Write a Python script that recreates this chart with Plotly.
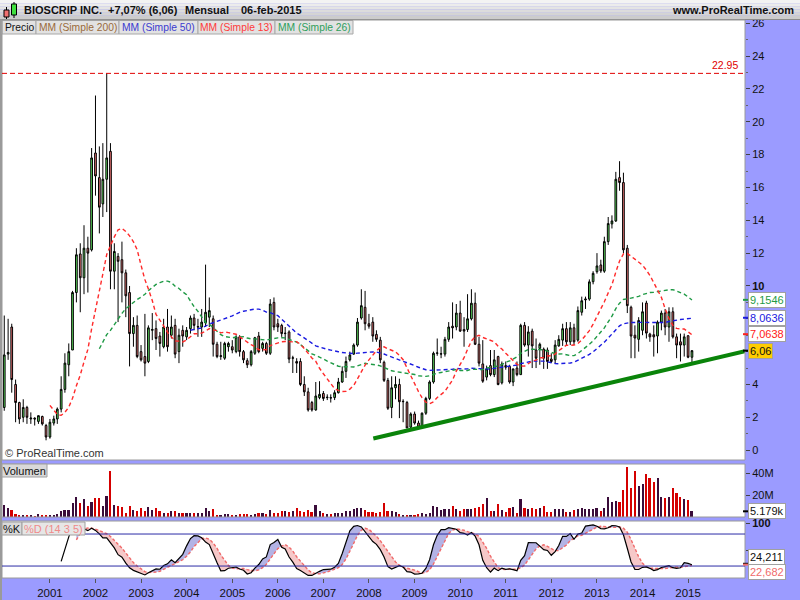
import numpy as np
import pandas as pd
import plotly.graph_objects as go

# ---------------- data (monthly, Jan 2000 .. Feb 2015) ----------------
months = pd.date_range("2000-01-01", periods=182, freq="MS")

opens = [2.6, 5.85, 7.5, 4.0, 2.9, 2.0, 2.6, 1.9, 1.95, 1.75, 2.05, 1.5,
         0.8, 1.65, 1.9, 2.5, 3.7, 5.2, 6.1, 9.6, 11.95, 10.5, 12.3, 12.2,
         18.1, 16.6, 15.0, 16.5, 18.2, 10.9, 11.8, 11.6, 10.8, 9.6, 7.1, 7.6,
         6.0, 5.7, 5.4, 7.3, 7.4, 6.95, 6.3, 7.5, 7.0, 7.6, 6.0, 7.3,
         6.9, 7.4, 8.05, 7.5, 7.5, 7.75, 8.1, 8.0, 6.45, 5.7, 5.6, 6.3,
         6.3, 6.0, 6.9, 6.0, 5.45, 5.2, 5.9, 6.95, 6.2, 6.5, 5.9, 9.0,
         7.7, 7.6, 7.1, 7.2, 5.6, 5.4, 5.4, 4.0, 3.55, 2.9, 2.45, 3.2,
         3.45, 3.2, 3.2, 3.2, 3.5, 4.15, 4.8, 5.5, 5.85, 6.4, 8.05, 8.7,
         7.7, 7.8, 7.05, 6.7, 5.35, 4.25, 2.6, 3.8, 4.0, 2.95, 2.9, 1.4,
         2.2, 1.65, 1.4, 2.25, 3.15, 4.15, 5.9, 5.85, 5.85, 6.75, 7.55, 7.5,
         8.35, 7.35, 7.35, 8.0, 8.95, 6.45, 5.25, 4.45, 5.15, 4.6, 5.7, 4.1,
         5.15, 5.1, 4.15, 5.0, 4.6, 7.6, 6.4, 7.25, 6.1, 6.2, 6.15, 6.1,
         5.55, 5.5, 6.35, 6.7, 7.4, 6.6, 7.45, 6.7, 8.4, 9.15, 9.2, 10.26,
         10.87, 11.28, 10.9, 12.7, 13.78, 13.96, 16.6, 16.3, 12.3, 8.7, 7.0, 6.75,
         7.3, 8.96, 7.07, 7.03, 6.95, 7.8, 8.35, 7.5, 8.43, 6.9, 6.6, 6.4,
         6.97, 5.66]
highs = [8.2, 8.0, 7.7, 4.3, 2.95, 3.1, 2.7, 2.3, 2.0, 2.1, 2.1, 1.6,
         1.9, 2.1, 2.6, 4.5, 5.9, 6.5, 9.7, 12.3, 12.6, 13.7, 13.0, 18.4,
         21.6, 18.5, 18.7, 22.95, 18.7, 12.6, 12.0, 12.7, 11.0, 10.0, 8.1, 8.2,
         6.4, 8.3, 7.6, 8.35, 7.9, 7.2, 8.0, 8.6, 8.2, 8.0, 7.4, 7.6,
         7.5, 8.2, 8.3, 8.0, 8.6, 11.3, 9.3, 8.2, 6.6, 6.6, 6.6, 6.6,
         6.7, 7.0, 7.0, 6.1, 5.6, 6.1, 6.9, 7.2, 6.6, 6.6, 9.2, 9.3,
         8.0, 7.7, 7.5, 7.3, 5.75, 5.6, 5.6, 4.5, 3.8, 3.0, 4.15, 4.2,
         3.6, 3.4, 3.4, 3.65, 4.4, 5.1, 5.7, 6.0, 6.5, 8.05, 9.8, 9.7,
         8.3, 8.1, 7.3, 6.9, 5.45, 4.4, 4.5, 4.5, 4.35, 3.1, 3.0, 2.3,
         2.35, 1.8, 2.3, 3.25, 4.25, 6.0, 6.8, 6.3, 6.9, 7.8, 9.0, 8.9,
         9.1, 8.1, 9.5, 9.8, 9.6, 6.9, 6.7, 5.15, 6.1, 6.1, 5.75, 5.4,
         5.4, 5.2, 4.9, 5.4, 7.7, 7.8, 7.55, 7.4, 6.8, 6.55, 6.25, 6.25,
         5.9, 6.7, 7.0, 7.7, 7.8, 7.8, 7.7, 8.75, 9.35, 9.35, 10.4, 10.9,
         12.0, 11.6, 13.0, 14.2, 14.3, 16.95, 17.6, 16.9, 12.5, 8.8, 7.6, 8.1,
         9.0, 9.1, 7.15, 7.6, 7.9, 8.5, 8.6, 8.7, 8.7, 7.1, 7.1, 7.1,
         7.0, 6.1]
lows = [2.4, 5.5, 3.5, 1.7, 1.6, 1.7, 1.6, 1.6, 1.5, 1.6, 1.5, 0.6,
        0.7, 1.5, 1.6, 2.3, 3.5, 4.5, 6.1, 9.0, 8.4, 9.5, 9.6, 12.1,
        15.5, 13.2, 14.2, 14.5, 9.8, 9.8, 7.8, 9.0, 8.1, 5.1, 6.3, 5.6,
        5.4, 4.5, 5.3, 6.7, 6.1, 5.7, 6.2, 6.0, 6.8, 5.6, 5.3, 6.3,
        6.7, 7.1, 7.3, 6.9, 6.9, 7.5, 7.5, 5.7, 5.6, 5.5, 5.5, 6.0,
        5.9, 5.9, 5.7, 5.3, 5.0, 5.1, 5.8, 5.9, 6.0, 5.8, 5.8, 7.3,
        7.2, 6.9, 6.7, 5.3, 4.7, 4.7, 3.9, 3.3, 2.35, 2.35, 2.4, 3.1,
        3.0, 3.05, 2.9, 3.05, 3.45, 4.1, 4.4, 5.4, 5.8, 6.3, 7.95, 7.3,
        7.4, 6.6, 6.6, 5.3, 4.15, 2.45, 1.95, 3.1, 1.95, 1.7, 1.35, 1.3,
        1.55, 1.4, 1.3, 2.15, 3.05, 4.05, 5.75, 5.6, 5.7, 6.6, 6.8, 7.3,
        7.2, 6.3, 7.2, 7.9, 6.4, 5.1, 4.1, 4.25, 4.5, 4.45, 3.95, 4.0,
        4.9, 4.05, 3.9, 4.5, 4.6, 6.3, 5.7, 5.0, 5.0, 5.2, 4.95, 4.95,
        5.3, 5.3, 6.3, 6.35, 6.35, 6.4, 6.4, 6.6, 8.2, 8.6, 9.1, 10.1,
        10.75, 10.8, 10.8, 12.5, 13.5, 13.9, 15.8, 12.0, 8.35, 5.6, 5.6, 6.0,
        7.0, 6.8, 6.6, 5.7, 5.9, 7.3, 7.0, 6.6, 6.8, 5.6, 5.4, 5.7,
        5.6, 5.3]
closes = [5.8, 5.95, 4.3, 2.9, 1.9, 2.6, 2.0, 1.95, 1.9, 2.1, 1.6, 0.8,
          1.7, 1.9, 2.5, 3.7, 5.3, 6.0, 9.6, 11.9, 10.5, 12.3, 12.0, 17.8,
          16.7, 14.8, 16.5, 17.8, 10.9, 12.1, 11.5, 10.8, 9.4, 7.1, 7.6, 5.7,
          5.5, 5.3, 7.45, 7.35, 6.8, 6.5, 7.5, 6.3, 7.5, 5.85, 7.0, 6.95,
          7.3, 8.05, 7.6, 7.52, 7.8, 8.4, 8.5, 6.45, 5.7, 5.75, 6.5, 6.5,
          6.1, 6.9, 6.0, 5.5, 5.2, 6.0, 6.85, 6.0, 6.5, 5.9, 8.9, 7.5,
          7.5, 7.1, 7.12, 5.55, 5.62, 5.3, 4.0, 3.55, 2.45, 2.45, 3.3, 3.4,
          3.15, 3.22, 3.18, 3.5, 4.15, 4.8, 5.4, 5.8, 6.4, 7.8, 8.8, 7.7,
          7.55, 6.95, 6.75, 5.5, 4.25, 2.55, 3.8, 4.0, 2.95, 2.97, 1.35, 2.2,
          1.65, 1.4, 2.25, 3.15, 4.15, 5.9, 5.92, 5.87, 6.75, 7.5, 7.45, 8.35,
          7.25, 7.25, 8.0, 8.95, 6.45, 5.3, 4.2, 4.95, 4.6, 5.5, 4.0, 5.25,
          5.05, 4.15, 4.95, 4.6, 7.6, 6.4, 7.2, 6.35, 5.6, 6.45, 5.6, 5.4,
          5.4, 6.4, 6.75, 7.4, 6.6, 7.45, 6.6, 8.5, 9.1, 9.2, 10.25, 10.77,
          11.22, 10.92, 12.7, 13.8, 13.96, 16.5, 16.3, 12.2, 8.8, 6.95, 6.83, 7.9,
          8.43, 7.13, 6.9, 6.9, 7.8, 8.35, 7.5, 8.43, 6.9, 6.4, 6.4, 6.9,
          5.66, 6.06]
volumes_m = [10.9, 8.5, 6.4, 2.7, 2.1, 2.1, 1.5, 1.5, 0.6, 2.7, 2.1, 2.1,
             2.1, 1.5, 2.7, 5.5, 6.4, 6.4, 12.4, 17.9, 12.4, 16.4, 10.0, 13.9,
             17.6, 17.6, 10.0, 19.1, 41.8, 10.5, 10.0, 9.4, 3.3, 10.0, 6.4, 5.5,
             8.5, 5.5, 8.9, 6.4, 8.5, 5.5, 3.9, 3.3, 5.5, 5.5, 3.9, 3.9,
             3.3, 3.9, 3.3, 3.3, 3.3, 7.9, 5.5, 7.0, 2.1, 2.1, 2.7, 2.7,
             1.5, 2.1, 2.7, 2.7, 2.7, 2.1, 2.7, 3.3, 3.3, 2.7, 6.4, 3.3,
             4.0, 5.5, 5.5, 4.5, 5.5, 7.9, 5.5, 4.5, 6.4, 4.5, 10.9, 5.5,
             3.3, 2.7, 2.7, 3.3, 3.3, 3.9, 5.5, 5.5, 7.0, 7.9, 7.9, 6.4,
             4.5, 4.5, 3.9, 4.5, 12.4, 5.5, 5.5, 4.5, 2.7, 2.1, 2.1, 2.1,
             1.5, 2.7, 3.3, 2.7, 3.9, 10.0, 8.9, 6.4, 7.3, 7.0, 10.0, 7.3,
             5.5, 7.3, 7.3, 7.0, 8.5, 9.4, 11.8, 17.6, 5.5, 5.5, 11.8, 6.1,
             4.5, 8.5, 8.9, 3.9, 16.4, 7.9, 7.0, 7.9, 7.0, 7.9, 10.0, 4.5,
             4.5, 7.0, 7.0, 7.0, 4.5, 4.5, 6.1, 7.3, 8.5, 7.3, 7.3, 7.3,
             7.9, 5.8, 8.5, 18.2, 13.9, 14.8, 13.9, 24.5, 45.7, 26.0, 42.0, 28.5,
             29.7, 39.0, 35.2, 31.5, 35.8, 17.9, 17.0, 17.9, 26.7, 22.1, 17.9, 16.0,
             15.5, 5.18]

year_ticks = list(range(2001, 2016))
price_ticks = list(range(0, 27, 2))
volume_ticks = [20, 40]
stoch_ticks = [50, 100]

# values printed in the right-hand markers
marker_sma26, marker_sma50, marker_sma13, marker_close = 9.1546, 8.0636, 7.0638, 6.06
marker_k, marker_d = 24.211, 22.682
marker_volume_k = 5.179

# hand-drawn support line
trend_dates = ["2008-02-05", "2016-04-01"]
trend_values = [0.71, 6.03]

# ---------------- helpers ----------------
W, H = 800, 600
def px(x): return x / W
def py(y): return 1 - y / H

FONT = "Liberation Sans, Arial, sans-serif"
X_DOM = [px(2), px(745)]
PRICE_DOM = [py(460), py(20)]
VOL_DOM = [py(517), py(464)]
STO_DOM = [py(578), py(521)]

s_close = pd.Series(closes, dtype=float)
s_high = pd.Series(highs, dtype=float)
s_low = pd.Series(lows, dtype=float)
sma13 = s_close.rolling(13).mean()
sma26 = s_close.rolling(26).mean()
sma50 = s_close.rolling(50).mean()

hh = s_high.rolling(14).max()
ll = s_low.rolling(14).min()
raw_k = 100 * (s_close - ll) / (hh - ll)
pct_k = raw_k.rolling(3).mean()
pct_d = pct_k.rolling(5).mean()

# fill polygons between %K and %D with crossing points inserted
valid = pct_d.notna().values
t_ns = months.values.astype("int64")
idx = np.where(valid)[0]
fx, fk, fd = [], [], []
for a, b in zip(idx[:-1], idx[1:]):
    k0, k1, d0, d1 = pct_k[a], pct_k[b], pct_d[a], pct_d[b]
    fx.append(t_ns[a]); fk.append(k0); fd.append(d0)
    if (k0 - d0) * (k1 - d1) < 0:
        f = (k0 - d0) / ((k0 - d0) - (k1 - d1))
        fx.append(t_ns[a] + f * (t_ns[b] - t_ns[a]))
        v = d0 + f * (d1 - d0)
        fk.append(v); fd.append(v)
fx.append(t_ns[idx[-1]]); fk.append(pct_k[idx[-1]]); fd.append(pct_d[idx[-1]])
fx = pd.to_datetime(np.array(fx, dtype="int64"))
fk = np.array(fk); fd = np.array(fd)

vol_colors = ["#3a0c3a" if c >= o else "#d40000" for o, c in zip(opens, closes)]

fig = go.Figure()

fig.add_trace(go.Candlestick(
    x=months, open=opens, high=highs, low=lows, close=closes,
    increasing=dict(fillcolor="#5fe35f", line=dict(color="black", width=1)),
    decreasing=dict(fillcolor="#f27777", line=dict(color="black", width=1)),
    whiskerwidth=0, xaxis="x", yaxis="y", hoverinfo="skip"))

for series, col in [(sma50, "#1a1ae0"), (sma26, "#1f9a45"), (sma13, "#ff2a2a")]:
    fig.add_trace(go.Scatter(x=months, y=series, mode="lines",
                             line=dict(color=col, width=1.4, dash="4px,3px"),
                             xaxis="x", yaxis="y", hoverinfo="skip"))

fig.add_trace(go.Scatter(x=trend_dates, y=trend_values, mode="lines",
                         line=dict(color="#0a840a", width=4),
                         xaxis="x", yaxis="y", hoverinfo="skip"))

fig.add_trace(go.Bar(x=months, y=volumes_m, marker=dict(color=vol_colors, line=dict(width=0)),
                     width=16 * 24 * 3600 * 1000, xaxis="x", yaxis="y2", hoverinfo="skip"))

# stochastic fills
fig.add_trace(go.Scatter(x=fx, y=fd, mode="lines", line=dict(width=0), xaxis="x", yaxis="y3", hoverinfo="skip"))
fig.add_trace(go.Scatter(x=fx, y=np.maximum(fk, fd), mode="lines", line=dict(width=0), fill="tonexty",
                         fillcolor="rgba(160,160,222,0.8)", xaxis="x", yaxis="y3", hoverinfo="skip"))
fig.add_trace(go.Scatter(x=fx, y=fd, mode="lines", line=dict(width=0), xaxis="x", yaxis="y3", hoverinfo="skip"))
fig.add_trace(go.Scatter(x=fx, y=np.minimum(fk, fd), mode="lines", line=dict(width=0), fill="tonexty",
                         fillcolor="rgba(244,190,190,0.85)", xaxis="x", yaxis="y3", hoverinfo="skip"))
fig.add_trace(go.Scatter(x=months, y=pct_d, mode="lines", line=dict(color="#f06a6a", width=1.4, dash="3px,2px"),
                         xaxis="x", yaxis="y3", hoverinfo="skip"))
fig.add_trace(go.Scatter(x=months, y=pct_k, mode="lines", line=dict(color="black", width=1.2),
                         xaxis="x", yaxis="y3", hoverinfo="skip"))

shapes = []
ann = []

# title bar gradient
grad = ["#f3f3f3", "#ececec", "#e4e4e4", "#dcdcdc", "#d4d4d4", "#cccccc"]
bh = 19 / len(grad)
for n, c in enumerate(grad):
    shapes.append(dict(type="rect", xref="paper", yref="paper", x0=0, x1=1,
                       y0=py((n + 1) * bh), y1=py(n * bh), fillcolor=c, line=dict(width=0)))
shapes.append(dict(type="line", xref="paper", yref="paper", x0=0, x1=1, y0=py(19.5), y1=py(19.5),
                   line=dict(color="#8c8c8c", width=1)))
shapes.append(dict(type="rect", xref="paper", yref="paper", x0=0, x1=px(2), y0=0, y1=py(19),
                   fillcolor="#9a9a9a", line=dict(width=0)))

# icon
shapes += [
    dict(type="line", xref="paper", yref="paper", x0=px(6.5), x1=px(6.5), y0=py(19), y1=py(7), line=dict(color="black", width=1)),
    dict(type="rect", xref="paper", yref="paper", x0=px(4), x1=px(9), y0=py(17), y1=py(10), fillcolor="#f07070", line=dict(color="black", width=1)),
    dict(type="line", xref="paper", yref="paper", x0=px(14), x1=px(14), y0=py(18), y1=py(2), line=dict(color="black", width=1)),
    dict(type="rect", xref="paper", yref="paper", x0=px(11.5), x1=px(16.5), y0=py(15), y1=py(4), fillcolor="#40e040", line=dict(color="black", width=1)),
]

def text(x, y, t, size=11, color="#111", bold=False, xanchor="left", **kw):
    d = dict(xref="paper", yref="paper", x=px(x), y=py(y), text=("<b>%s</b>" % t) if bold else t,
             showarrow=False, xanchor=xanchor, yanchor="middle",
             font=dict(family=FONT, size=size, color=color))
    d.update(kw)
    ann.append(d)

text(22, 10, "BIOSCRIP INC.", 11, "#111", True)
text(106, 10, "+7,07% (6,06)", 11, "#111", True)
text(183, 10, "Mensual", 11, "#111", True)
text(239, 10, "06-feb-2015", 11, "#111", True)
text(796, 10, "www.ProRealTime.com", 11, "#111", True, xanchor="right")

# legend boxes
leg = [("Precio", "#111", 2, 36), ("MM (Simple 200)", "#9a6a3a", 36, 119),
       ("MM (Simple 50)", "#3b3bd0", 119, 198), ("MM (Simple 13)", "#ff3a3a", 198, 275),
       ("MM (Simple 26)", "#2e9e5a", 275, 353)]
for t, c, x0, x1 in leg:
    shapes.append(dict(type="rect", xref="paper", yref="paper", x0=px(x0), x1=px(x1), y0=py(34), y1=py(20.5),
                       fillcolor="#e2e2e2", line=dict(color="#a8a8a8", width=1), layer="above"))
    text((x0 + x1) / 2, 27.5, t, 10.3, c, xanchor="center")

# panel borders
for top, bot in [(20, 460), (464, 517), (521, 578)]:
    shapes.append(dict(type="rect", xref="paper", yref="paper", x0=px(2), x1=px(745), y0=py(bot), y1=py(top),
                       line=dict(color="#9a9a9a", width=1), fillcolor="rgba(0,0,0,0)", layer="above"))

# 22.95 high line
max_high = max(highs)
shapes.append(dict(type="line", xref="paper", yref="y", x0=px(2), x1=px(745), y0=max_high, y1=max_high,
                   line=dict(color="#e00000", width=1, dash="5px,3px")))
ann.append(dict(xref="paper", yref="y", x=px(740), y=max_high, text=f"{max_high:.2f}", showarrow=False,
                xanchor="right", yanchor="bottom", font=dict(family=FONT, size=10.5, color="#e00000")))

text(3, 453, "© ProRealTime.com", 11, "#333")

# stochastic reference lines
for lvl in (20, 80):
    shapes.append(dict(type="line", xref="paper", yref="y3", x0=px(2), x1=px(745), y0=lvl, y1=lvl,
                       line=dict(color="#2b2ba6", width=1)))

# panel label boxes
def box(x0, x1, y0, y1, t, color="#111", fill="#d9d9d9"):
    shapes.append(dict(type="rect", xref="paper", yref="paper", x0=px(x0), x1=px(x1), y0=py(y1), y1=py(y0),
                       fillcolor=fill, line=dict(color="#a0a0a0", width=1), layer="above"))
    text((x0 + x1) / 2, (y0 + y1) / 2, t, 11, color, xanchor="center")

box(2, 47, 464, 477, "Volumen")
box(2, 22, 522, 535, "%K")
box(22, 85, 522, 535, "%D (14 3 5)", "#f08a8a", "#e6e6e6")

# right-axis markers
def marker(yref, val, label, color, fill="white", yshift=0):
    shapes.append(dict(type="line", xref="paper", yref=yref, x0=px(743), x1=px(748), y0=val, y1=val,
                       line=dict(color=color if color != "#111" else "black", width=2)))
    ann.append(dict(xref="paper", yref=yref, x=px(748), y=val, text=label, showarrow=False,
                    xanchor="left", yanchor="middle", bgcolor=fill, bordercolor="#a0a0a0", borderwidth=1,
                    borderpad=1, yshift=yshift, font=dict(family=FONT, size=11, color=color)))

def comma(v, nd):
    return f"{v:.{nd}f}".replace(".", ",")

marker("y", marker_sma26, comma(marker_sma26, 4), "#1f9a45")
marker("y", marker_sma50, comma(marker_sma50, 4), "#1a1ae0")
marker("y", marker_sma13, comma(marker_sma13, 4), "#ff2020")
marker("y", marker_close, comma(marker_close, 2), "#111", fill="#ffcc00")
marker("y2", marker_volume_k, f"{marker_volume_k:.3f}k", "#111")
marker("y3", marker_k, comma(marker_k, 3), "#111", yshift=7)
marker("y3", marker_d, comma(marker_d, 3), "#f06a6a", yshift=-7)

axis_font = dict(family=FONT, size=11, color="#111")
# labels hidden behind the marker boxes in the original are left blank
hidden = {6, 8}
price_text = [("<b>%d</b>" % v) if v == 10 else ("" if v in hidden else str(v)) for v in price_ticks]

fig.update_layout(
    width=W, height=H, margin=dict(l=0, r=0, t=0, b=0),
    paper_bgcolor="#9b9bff", plot_bgcolor="white", showlegend=False,
    font=dict(family=FONT, size=11, color="#111"),
    xaxis=dict(domain=X_DOM, anchor="y3", type="date", range=["1999-12-14", "2016-04-01"],
               tickvals=[f"{y}-01-01" for y in year_ticks], ticktext=[str(y) for y in year_ticks],
               ticks="outside", ticklen=4, tickcolor="#555", tickfont=dict(family=FONT, size=11.5, color="#111"),
               showgrid=False, zeroline=False, showline=False, rangeslider=dict(visible=False),
               automargin=False),
    yaxis=dict(domain=PRICE_DOM, anchor="x", side="right", range=[-0.6, 26.2],
               tickvals=price_ticks, ticktext=price_text, ticks="outside", ticklen=4, tickcolor="#444",
               minor=dict(tickvals=list(range(1, 26, 2)), ticks="outside", ticklen=2, tickcolor="#666"),
               tickfont=axis_font, showgrid=False, zeroline=False, automargin=False),
    yaxis2=dict(domain=VOL_DOM, anchor="x", side="right", range=[0, 48.2],
                tickvals=volume_ticks, ticktext=[f"{v}M" for v in volume_ticks], ticks="outside", ticklen=4,
                tickcolor="#444", tickfont=axis_font, showgrid=False, zeroline=False, automargin=False),
    yaxis3=dict(domain=STO_DOM, anchor="x", side="right", range=[-2.4, 104.4],
                tickvals=stoch_ticks, ticktext=["", "<b>100</b>"], ticks="outside", ticklen=4,
                tickcolor="#444", tickfont=axis_font, showgrid=False, zeroline=False, automargin=False),
    shapes=shapes, annotations=ann, bargap=0,
)

fig.write_html("out.html", config={"displayModeBar": False},
               post_script="document.body.style.margin='0px';document.body.style.overflow='hidden';")
